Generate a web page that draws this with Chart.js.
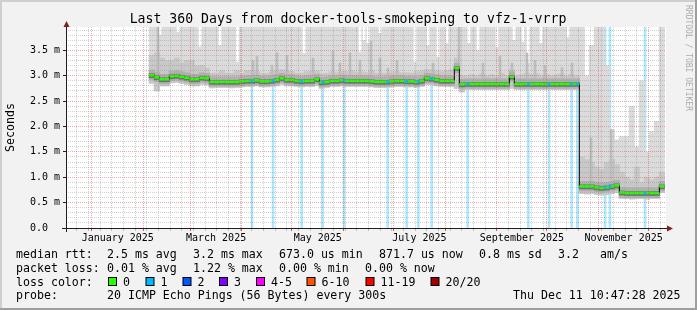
<!DOCTYPE html>
<html>
<head>
<meta charset="utf-8">
<script src="https://cdn.jsdelivr.net/npm/chart.js@4/dist/chart.umd.min.js"></script>
<style>
  html, body { margin: 0; padding: 0; background: #f2f2f2; }
  canvas { display: block; }
</style>
</head>
<body>
<canvas id="smoke" width="697" height="310"></canvas>
<script>
const FONT = '"DejaVu Sans Mono", monospace';

// x axis runs in days since the start of the 360 day window
const endTime = Date.UTC(2025, 11, 11, 10, 47, 28);
const startTime = endTime - 360 * 864e5;
const dayOf = (y, m, d) => (Date.UTC(y, m, d) - startTime) / 864e5;

// one value per 3 day bucket, first bucket starts at day 50 (early Feb)
const firstBucketDay = 50;
const bucketDays = 3;

// median rtt in ms
const median = [
  3.01, 2.97, 2.93, 2.93, 2.99, 3.00, 2.98, 2.96, 2.93, 2.93, 2.96, 2.95,
  2.88, 2.88, 2.88, 2.88, 2.88, 2.88, 2.89, 2.90, 2.90, 2.91, 2.89, 2.89,
  2.90, 2.92, 2.95, 2.92, 2.92, 2.90, 2.89, 2.90, 2.90, 2.93, 2.87, 2.88,
  2.90, 2.90, 2.91, 2.90, 2.90, 2.90, 2.90, 2.90, 2.89, 2.88, 2.88, 2.88,
  2.89, 2.90, 2.90, 2.89, 2.89, 2.88, 2.90, 2.95, 2.94, 2.92, 2.90, 2.90, 2.90,
  3.15, 2.83,
  2.84, 2.84, 2.84, 2.84, 2.84, 2.84, 2.84, 2.84, 2.84,
  2.98,
  2.84, 2.84, 2.84, 2.84, 2.84, 2.84, 2.84, 2.84, 2.84, 2.84, 2.84, 2.84, 2.84,
  0.82, 0.82, 0.82, 0.80, 0.79, 0.80, 0.82, 0.84,
  0.70, 0.69, 0.69, 0.69, 0.69, 0.69, 0.69, 0.69,
  0.82
];
// slowest ping of the bucket (clipped at the top of the graph)
const smokeMax = [
  3.96, 3.96, 3.96, 3.96, 3.96, 3.96, 3.96, 3.96, 3.96, 3.96, 3.96, 3.96,
  3.96, 3.96, 3.96, 3.96, 3.96, 3.96, 3.96, 3.96, 3.96, 3.96, 3.96, 3.96,
  3.96, 3.96, 3.96, 3.96, 3.96, 3.96, 3.96, 3.96, 3.96, 3.96, 3.96, 3.96,
  3.96, 3.96, 3.96, 3.96, 3.96, 3.96, 3.96, 3.96, 3.96, 3.96, 3.96, 3.96,
  3.96, 3.96, 3.96, 3.96, 3.96, 3.96, 3.96, 3.96, 3.96, 3.96, 3.96, 3.96, 3.96,
  3.96, 3.96,
  3.96, 3.96, 3.96, 3.96, 3.96, 3.96, 3.96, 3.96, 3.96,
  3.96,
  3.96, 3.96, 3.96, 3.96, 3.96, 3.96, 3.96, 3.96, 3.96, 3.96, 3.96, 3.96, 3.96,
  3.96, 3.00, 3.60, 3.96, 3.96, 3.20, 1.94, 1.74,
  1.80, 1.80, 2.40, 1.60, 2.90, 1.50, 1.90, 2.10,
  3.96
];
// upper edge of the denser middle smoke
const smokeMid = [
  3.40, 3.45, 3.35, 3.30, 3.30, 3.35, 3.25, 3.30, 3.30, 3.20, 3.20, 3.15,
  3.05, 3.05, 3.10, 3.05, 3.05, 3.10, 3.05, 3.10, 3.10, 3.08, 3.05, 3.05,
  3.08, 3.10, 3.12, 3.10, 3.08, 3.05, 3.05, 3.08, 3.08, 3.10, 3.04, 3.05,
  3.08, 3.06, 3.08, 3.08, 3.10, 3.06, 3.08, 3.06, 3.10, 3.05, 3.05, 3.05,
  3.06, 3.08, 3.06, 3.06, 3.05, 3.08, 3.10, 3.12, 3.12, 3.10, 3.08, 3.10, 3.12,
  3.35, 3.00,
  3.00, 3.02, 3.00, 3.04, 3.00, 3.02, 3.00, 3.05, 3.00,
  3.12,
  3.00, 3.02, 3.05, 3.02, 3.04, 3.00, 3.02, 3.00, 3.02, 3.04, 3.00, 3.03, 3.00,
  1.40, 1.35, 1.30, 1.20, 1.15, 1.30, 1.35, 1.25,
  1.10, 1.00, 0.95, 1.20, 0.90, 1.00, 0.95, 1.00,
  1.10
];
// fastest ping of the bucket
const smokeMin = [
  2.85, 2.70, 2.80, 2.80, 2.86, 2.87, 2.85, 2.83, 2.80, 2.80, 2.83, 2.82,
  2.76, 2.77, 2.77, 2.77, 2.76, 2.77, 2.78, 2.79, 2.79, 2.80, 2.78, 2.78,
  2.79, 2.80, 2.83, 2.80, 2.80, 2.79, 2.78, 2.79, 2.79, 2.81, 2.75, 2.77,
  2.79, 2.79, 2.80, 2.79, 2.79, 2.79, 2.79, 2.79, 2.78, 2.77, 2.77, 2.77,
  2.78, 2.79, 2.79, 2.78, 2.78, 2.77, 2.79, 2.83, 2.82, 2.80, 2.79, 2.79, 2.79,
  2.75, 2.68,
  2.73, 2.73, 2.73, 2.73, 2.73, 2.73, 2.73, 2.73, 2.73,
  2.75,
  2.73, 2.73, 2.73, 2.73, 2.73, 2.73, 2.73, 2.73, 2.73, 2.73, 2.73, 2.73, 2.73,
  0.68, 0.67, 0.68, 0.66, 0.65, 0.66, 0.68, 0.70,
  0.58, 0.58, 0.57, 0.58, 0.58, 0.57, 0.58, 0.58,
  0.70
];

// short bursts of slow pings (day, top in ms)
const spikeDays = [55.2, 112.2, 114.6, 123.6, 126.6, 132.6, 148.2, 160.2, 164.4, 170.4, 176.4, 183.0,
  188.4, 193.2, 198.6, 220.2, 235.8, 250.2, 260.4, 267.6, 276.6, 281.4, 287.4, 297.6, 303.6, 315.0, 327.0];
const spikeTops = [3.96, 3.30, 3.38, 3.20, 3.45, 3.40, 3.35, 3.48, 3.25, 3.45, 3.30, 3.68,
  3.35, 3.15, 3.30, 3.25, 3.96, 3.25, 3.38, 3.25, 3.45, 3.30, 3.20, 3.16, 3.25, 1.78, 1.94];
// moments where even the slowest ping stayed below the top
const dipDays = [56.4, 67.2, 80.4, 92.4, 102.9, 142.8, 176.4, 178.8, 181.2, 188.4, 209.4,
  217.2, 223.2, 228.6, 241.8, 247.2, 258.6, 268.8, 274.2, 277.2, 285.0, 301.2];
const dipLevels = [3.81, 3.87, 3.58, 3.61, 3.28, 3.45, 3.48, 3.71, 3.65, 3.85, 3.28,
  3.61, 3.38, 3.65, 3.65, 3.51, 3.57, 3.71, 3.67, 3.26, 3.65, 3.77];
// buckets with 1/20 packets lost
const lossDays = [111.6, 124.2, 141.4, 154.0, 166.8, 193.0, 204.4, 211.4, 219.4, 241.0,
  277.4, 289.8, 303.4, 306.8, 323.4, 326.4, 347.4];

const yMax = 3.96;
const yLabels = ['0.0  ', '0.5 m', '1.0 m', '1.5 m', '2.0 m', '2.5 m', '3.0 m', '3.5 m'];
const monthLabels = ['January 2025', 'March 2025', 'May 2025', 'July 2025', 'September 2025', 'November 2025'];
const labelMonths = [0, 2, 4, 6, 8, 10];

const lossColors = ['#26ff00', '#00b8ff', '#0059ff', '#7e00ff', '#ff00ff', '#ff5500', '#ff0000', '#a10000'];
const lossLabels = ['0', '1', '2', '3', '4-5', '6-10', '11-19', '20/20'];

const TITLE = 'Last 360 Days from docker-tools-smokeping to vfz-1-vrrp';
const GRID = 'rgba(143,143,143,0.42)';
const MGRID = 'rgba(222,79,79,0.48)';

const dayAt = i => firstBucketDay + bucketDays * (i + 0.5);
const bucketOf = d => Math.min(median.length - 1, Math.max(0, Math.floor((d - firstBucketDay) / bucketDays)));

// x ticks: month starts (red), mondays (grey), month labels in mid month
const monthStarts = [];
for (let m = 0; m < 12; m++) monthStarts.push(dayOf(2025, m, 1));
const xTicks = monthStarts.map(v => ({ value: v, kind: 'month', text: '' }));
for (let k = 0; ; k++) {
  const v = dayOf(2024, 11, 23 + 7 * k);
  if (v >= 360) break;
  if (!monthStarts.some(m => Math.abs(m - v) < 0.01)) xTicks.push({ value: v, kind: 'week', text: '' });
}
labelMonths.forEach((m, j) => xTicks.push({
  value: (dayOf(2025, m, 1) + dayOf(2025, m + 1, 1)) / 2, kind: 'label', text: monthLabels[j]
}));
xTicks.sort((a, b) => a.value - b.value);

const yTicks = [];
for (let k = 0; k <= 39; k++) {
  yTicks.push({ value: k / 10, kind: k % 5 === 0 ? 'major' : 'minor', text: k % 5 === 0 ? yLabels[k / 5] : '' });
}

const gridColor = c => {
  if (!c.tick) return 'transparent';
  const k = c.tick.kind;
  return k === 'month' || k === 'major' ? MGRID : k === 'label' ? 'transparent' : GRID;
};

const bucketBars = (lo, hi) => median.map((v, i) => ({ x: dayAt(i), y: [lo(v, i), hi(v, i)] }));
const barDefaults = { type: 'bar', grouped: false, borderWidth: 0, barThickness: 5.4 };

const legendRows = [
  [['median rtt:', 16], ['2.5 ms avg', 107], ['3.2 ms max', 193], ['673.0 us min', 279],
   ['871.7 us now', 379], ['0.8 ms sd', 479], ['3.2', 558], ['am/s', 600]],
  [['packet loss:', 16], ['0.01 % avg', 107], ['1.22 % max', 193], ['0.00 % min', 279], ['0.00 % now', 365]],
  [['loss color:', 16]],
  [['probe:', 16], ['20 ICMP Echo Pings (56 Bytes) every 300s', 107], ['Thu Dec 11 10:47:28 2025', 513]]
];
const lossBoxX = [108, 145.5, 182.5, 219, 256, 306.5, 365.5, 430.5];

const rrdFrame = {
  id: 'rrdFrame',
  beforeDraw(chart) {
    const { ctx, chartArea: a, width, height } = chart;
    ctx.save();
    ctx.fillStyle = '#f2f2f2';
    ctx.fillRect(0, 0, width, height);
    ctx.fillStyle = '#cfcfcf';
    ctx.fillRect(0, 0, width, 2);
    ctx.fillRect(0, 0, 2, height);
    ctx.fillStyle = '#9e9e9e';
    ctx.fillRect(0, height - 2, width, 2);
    ctx.fillRect(width - 2, 0, 2, height);
    ctx.fillStyle = '#ffffff';
    ctx.fillRect(a.left, a.top, a.right - a.left, a.bottom - a.top);
    ctx.restore();
  },
  afterDraw(chart) {
    const { ctx, chartArea: a } = chart;
    ctx.save();
    // axes with arrows
    ctx.strokeStyle = '#1f1f1f';
    ctx.lineWidth = 1;
    ctx.beginPath();
    ctx.moveTo(a.left - 4, a.bottom + 0.5);
    ctx.lineTo(a.right + 2, a.bottom + 0.5);
    ctx.moveTo(a.left + 0.5, a.bottom + 4);
    ctx.lineTo(a.left + 0.5, a.top - 1);
    ctx.stroke();
    ctx.fillStyle = '#801f1f';
    ctx.beginPath();
    ctx.moveTo(a.right + 7, a.bottom + 0.5);
    ctx.lineTo(a.right + 1, a.bottom - 2.5);
    ctx.lineTo(a.right + 1, a.bottom + 3.5);
    ctx.fill();
    ctx.beginPath();
    ctx.moveTo(a.left + 0.5, a.top - 6);
    ctx.lineTo(a.left - 2.5, a.top);
    ctx.lineTo(a.left + 3.5, a.top);
    ctx.fill();

    // title, centred on the whole image
    ctx.fillStyle = '#000';
    ctx.font = '13.2px ' + FONT;
    ctx.textAlign = 'center';
    ctx.textBaseline = 'alphabetic';
    ctx.fillText(TITLE, 348, 23);
    ctx.textAlign = 'left';

    // legend below the graph
    ctx.font = '11.6px ' + FONT;
    legendRows.forEach((row, r) => {
      row.forEach(([t, x]) => ctx.fillText(t, x, 258.3 + r * 13.7));
    });
    lossColors.forEach((c, k) => {
      const x = lossBoxX[k];
      ctx.fillStyle = c;
      ctx.fillRect(x + 0.5, 277.5, 8, 8);
      ctx.strokeStyle = '#000';
      ctx.strokeRect(x + 0.5, 277.5, 8, 8);
      ctx.fillStyle = '#000';
      ctx.fillText(lossLabels[k], x + 15, 285.7);
    });

    // watermark
    ctx.translate(688, 5);
    ctx.rotate(Math.PI / 2);
    ctx.font = '8px ' + FONT;
    ctx.fillStyle = '#ababab';
    ctx.textBaseline = 'middle';
    ctx.fillText('RRDTOOL / TOBI OETIKER', 0, 0);
    ctx.restore();
  }
};

new Chart(document.getElementById('smoke'), {
  type: 'bar',
  data: {
    datasets: [
      {
        type: 'line', label: 'loss on median', order: 0, showLine: false,
        data: lossDays.map(d => ({ x: d, y: median[bucketOf(d)] })),
        pointStyle: 'line', pointRadius: 1.4, pointBorderWidth: 2.6, pointBorderColor: lossColors[1],
      },
      {
        type: 'line', label: 'median', order: 1, showLine: false,
        data: median.map((v, i) => ({ x: dayAt(i), y: v })),
        pointStyle: 'line', pointRadius: 2.6, pointBorderWidth: 2.6, pointBorderColor: lossColors[0],
      },
      {
        type: 'line', label: 'median edge', order: 2, stepped: 'middle',
        data: median.map((v, i) => ({ x: dayAt(i), y: v })),
        borderColor: '#000', borderWidth: 1, pointRadius: 0,
      },
      { ...barDefaults, label: 'core', order: 3, backgroundColor: '#707070',
        data: bucketBars(v => v - 0.05, v => v + 0.03) },
      { ...barDefaults, label: 'inner', order: 4, backgroundColor: '#b0b0b0',
        data: bucketBars(v => v - 0.09, v => v + 0.1) },
      { ...barDefaults, label: 'spikes', order: 5, backgroundColor: '#bdbdbd', barThickness: 2,
        data: spikeDays.map((d, k) => ({ x: d, y: [median[bucketOf(d)], spikeTops[k]] })) },
      { ...barDefaults, label: 'mid', order: 6, backgroundColor: '#c8c8c8',
        data: bucketBars((v, i) => smokeMin[i], (v, i) => smokeMid[i]) },
      { ...barDefaults, label: 'dips', order: 7, backgroundColor: '#ffffff', barThickness: 2,
        data: dipDays.map((d, k) => ({ x: d, y: [dipLevels[k], yMax] })) },
      { ...barDefaults, label: 'smoke', order: 8, backgroundColor: '#dbdbdb',
        data: bucketBars((v, i) => smokeMin[i], (v, i) => smokeMax[i]) },
      { ...barDefaults, label: 'loss', order: 9, backgroundColor: 'rgba(0,184,255,0.33)', barThickness: 2,
        data: lossDays.map(d => ({ x: d, y: [0, yMax] })) },
    ]
  },
  options: {
    responsive: false,
    animation: false,
    events: [],
    layout: { padding: { left: 0, right: 31, top: 27, bottom: 0 } },
    plugins: {
      legend: { display: false },
      tooltip: { enabled: false },
      title: { display: false },
    },
    scales: {
      x: {
        type: 'linear', min: 0, max: 360, offset: false,
        afterBuildTicks: s => { s.ticks = xTicks; },
        afterFit: s => { s.height = 82; },
        grid: {
          offset: false, z: 1, color: gridColor, lineWidth: 1,
          drawTicks: true, tickLength: 3,
          tickColor: c => c.tick && c.tick.kind === 'month' ? '#de4f4f' : c.tick && c.tick.kind === 'week' ? '#bbbbbb' : 'transparent',
        },
        border: { display: false, dash: c => (c.tick ? [1, 1] : []) },
        ticks: {
          autoSkip: false, maxRotation: 0, padding: 1, color: '#000',
          font: { family: FONT, size: 10 },
          callback: (v, i, t) => t[i].text,
        },
      },
      y: {
        type: 'linear', min: 0, max: yMax,
        afterBuildTicks: s => { s.ticks = yTicks; },
        afterFit: s => { s.width = 66; },
        grid: {
          z: 1, color: gridColor, lineWidth: 1,
          drawTicks: true, tickLength: 3,
          tickColor: c => c.tick && c.tick.kind === 'major' ? '#1f1f1f' : 'transparent',
        },
        border: { display: false, dash: c => (c.tick ? [1, 1] : []) },
        ticks: {
          autoSkip: false, padding: 3, color: '#000',
          font: { family: FONT, size: 10 },
          callback: (v, i, t) => t[i].text,
        },
        title: {
          display: true, text: 'Seconds', color: '#000',
          font: { family: FONT, size: 11.6 },
          padding: { top: 4, bottom: 0 },
        },
      },
    },
  },
  plugins: [rrdFrame],
});
</script>
</body>
</html>
